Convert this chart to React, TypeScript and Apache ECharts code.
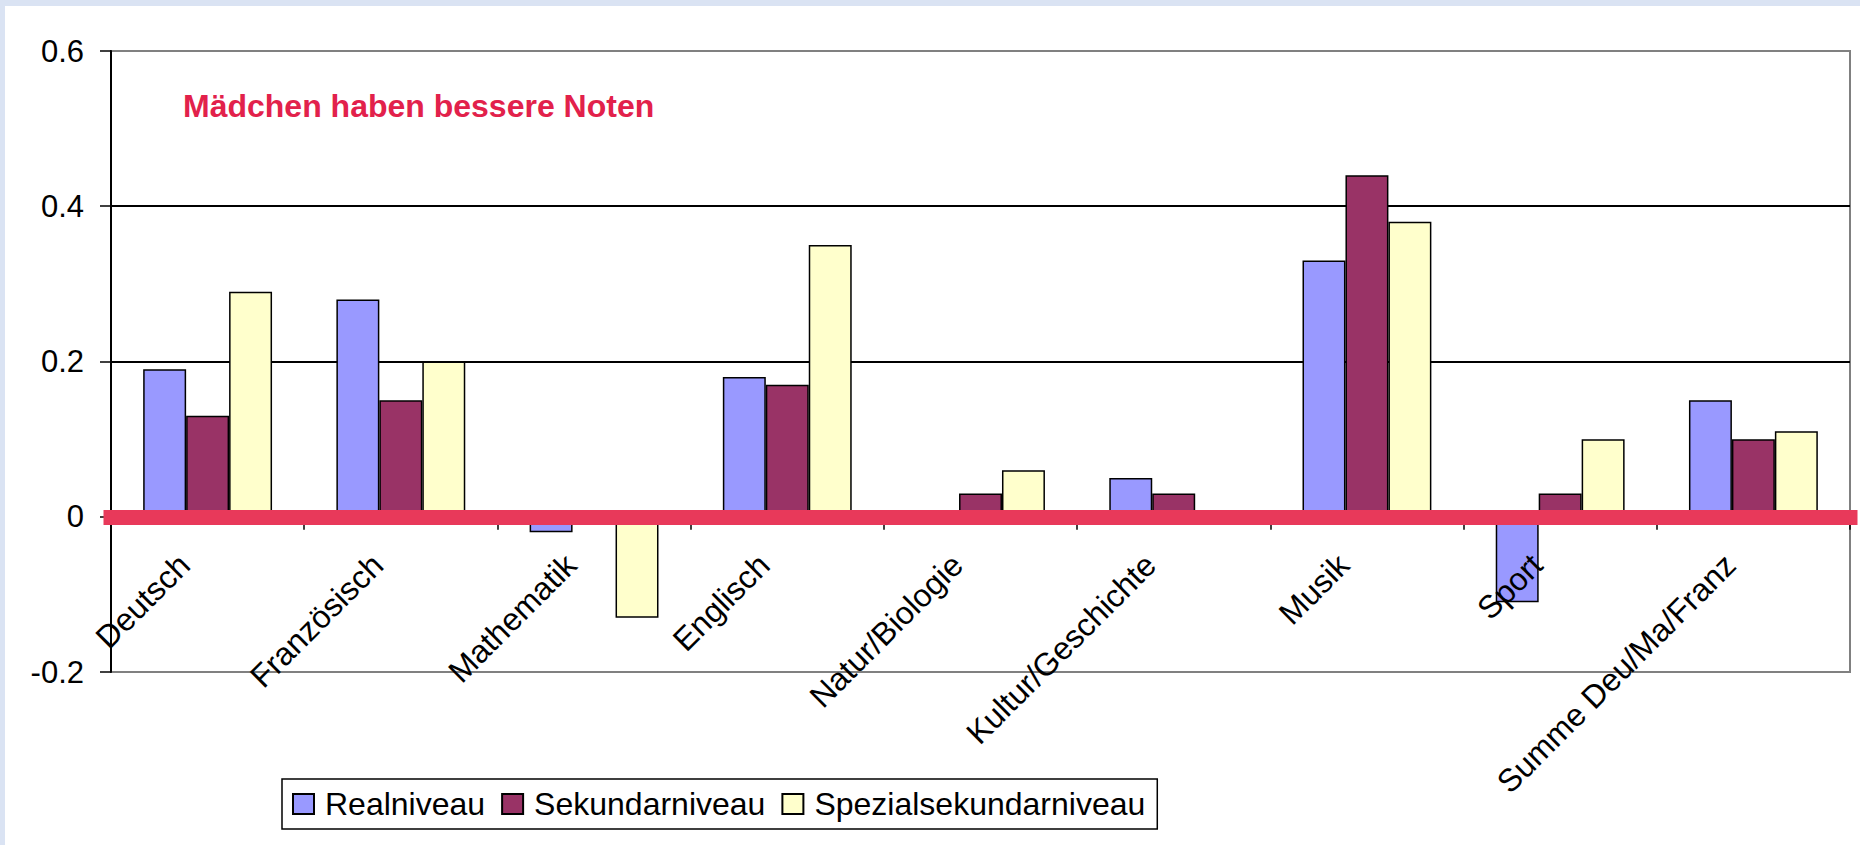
import React, { useEffect, useRef } from "react";
import * as echarts from "echarts";

const categories = [
  "Deutsch",
  "Französisch",
  "Mathematik",
  "Englisch",
  "Natur/Biologie",
  "Kultur/Geschichte",
  "Musik",
  "Sport",
  "Summe Deu/Ma/Franz",
];
const seriesNames = ["Realniveau", "Sekundarniveau", "Spezialsekundarniveau"];
const realniveau = [0.19, 0.28, -0.02, 0.18, 0, 0.05, 0.33, -0.11, 0.15];
const sekundarniveau = [0.13, 0.15, 0, 0.17, 0.03, 0.03, 0.44, 0.03, 0.1];
const spezialsekundarniveau = [0.29, 0.2, -0.13, 0.35, 0.06, 0, 0.38, 0.1, 0.11];
const yMin = -0.2;
const yMax = 0.6;
const yStep = 0.2;
const annotation = "Mädchen haben bessere Noten";

const FONT = '"Liberation Sans", Arial, Helvetica, sans-serif';
const colors = ["#9999FF", "#993366", "#FFFFCC"];

export default function App() {
  const ref = useRef<HTMLDivElement>(null);

  useEffect(() => {
    if (!ref.current) return;
    const chart = echarts.init(ref.current, null, { renderer: "svg" });
    const values = [realniveau, sekundarniveau, spezialsekundarniveau];

    const series: any[] = values.map((d, i) => ({
      name: seriesNames[i],
      type: "bar",
      data: d,
      z: i === 2 ? 4 : 2,
      barGap: "0%",
      barCategoryGap: "33.3%",
      itemStyle: { color: colors[i], borderColor: "#000", borderWidth: 1.5 },
      emphasis: { disabled: true },
    }));
    series[2].markLine = {
      silent: true,
      symbol: "none",
      label: { show: false },
      lineStyle: { color: "#E8395A", width: 15, type: "solid", cap: "square", opacity: 1 },
      data: [{ yAxis: 0 }],
    };

    chart.setOption({
      animation: false,
      backgroundColor: "#ffffff",
      textStyle: { fontFamily: FONT },
      grid: {
        left: 106,
        top: 45,
        right: 10,
        bottom: 173,
        containLabel: false,
        outerBoundsMode: "none",
        show: true,
        borderColor: "#808080",
        borderWidth: 2,
        backgroundColor: "transparent",
      },
      legend: {
        data: seriesNames,
        left: 277,
        top: 773,
        orient: "horizontal",
        itemWidth: 21,
        itemHeight: 20,
        itemGap: 16,
        padding: [9, 12, 9, 10],
        borderColor: "#000",
        borderWidth: 1.5,
        backgroundColor: "#fff",
        textStyle: { fontSize: 32, color: "#000", fontFamily: FONT, padding: [0, 0, 0, 6] },
        icon: "rect",
        selectedMode: false,
      },
      graphic: [
        {
          type: "text",
          left: 178,
          top: 84,
          z: 10,
          style: {
            text: annotation,
            fill: "#E2214B",
            font: `bold 32px ${FONT}`,
          },
        },
      ],
      xAxis: {
        type: "category",
        data: categories,
        z: 3,
        axisLine: { show: true, onZero: true, lineStyle: { color: "#000", width: 1.5 } },
        axisTick: { show: true, length: 13, interval: 0, lineStyle: { color: "#000", width: 1.5 } },
        axisLabel: {
          interval: 0,
          rotate: 45,
          margin: -113,
          fontSize: 32,
          lineHeight: 32,
          verticalAlign: "bottom",
          color: "#000",
          fontFamily: FONT,
          padding: [0, 17, 0, 0],
        },
        splitLine: { show: false },
      },
      yAxis: {
        type: "value",
        min: yMin,
        max: yMax,
        interval: yStep,
        axisLine: { show: true, lineStyle: { color: "#000", width: 2 } },
        axisTick: { show: true, length: 11, lineStyle: { color: "#000", width: 1.5 } },
        axisLabel: {
          fontSize: 31,
          color: "#000",
          margin: 27,
          fontFamily: FONT,
          formatter: (v: number) => String(Number(v.toFixed(1))),
        },
        splitLine: {
          show: true,
          lineStyle: {
            color: ["#808080", "#000000", "#000000", "#000000", "#808080"],
            width: 2,
          },
        },
      },
      series,
    });

    return () => chart.dispose();
  }, []);

  return (
    <div
      style={{
        position: "fixed",
        left: 0,
        top: 0,
        width: 1860,
        height: 845,
        background: "#DAE3F3",
        overflow: "hidden",
      }}
    >
      <div
        ref={ref}
        style={{ position: "absolute", left: 5, top: 6, width: 1855, height: 839, background: "#fff" }}
      />
    </div>
  );
}
